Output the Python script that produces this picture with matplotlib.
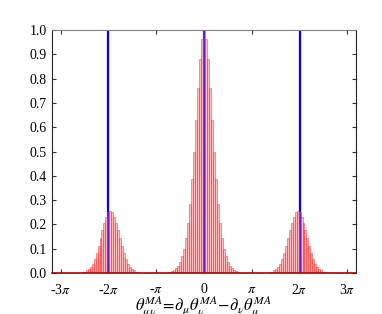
import numpy as np
import matplotlib
matplotlib.use("Agg")
import matplotlib.pyplot as plt

plt.rcParams['font.family'] = ['Liberation Serif', 'DejaVu Serif']
plt.rcParams['mathtext.fontset'] = 'stix'

# histogram data (bin width in rad, heights per peak, from centre outwards)
bin_width = 2 * np.pi / 48
peak_centers = [-2 * np.pi, 0.0, 2 * np.pi]
peak_shift_bins = [1, 0, -1]
central_half = [1.00, 0.965, 0.88, 0.76, 0.63, 0.50, 0.385, 0.285, 0.205, 0.145,
                0.10, 0.068, 0.045, 0.029, 0.018, 0.011, 0.006, 0.003, 0.0015]
side_half = [0.255, 0.250, 0.232, 0.207, 0.176, 0.143, 0.110, 0.080, 0.056,
             0.038, 0.025, 0.016, 0.010, 0.0055, 0.003, 0.0015]
peak_halves = [side_half, central_half, side_half]
line_positions = [-2 * np.pi, 0.0, 2 * np.pi]

xtick_vals = [-3 * np.pi, -2 * np.pi, -np.pi, 0, np.pi, 2 * np.pi, 3 * np.pi]
xtick_labels = [r'-3$\pi$', r'-2$\pi$', r'-$\pi$', '0', r'$\pi$', r'2$\pi$', r'3$\pi$']
ytick_vals = [0.0, 0.1, 0.2, 0.3, 0.4, 0.5, 0.6, 0.7, 0.8, 0.9, 1.0]

fig = plt.figure(figsize=(3.82, 3.14), dpi=100)
ax = fig.add_axes([0.136, 0.131, 0.796, 0.773])

for c, s, half in zip(peak_centers, peak_shift_bins, peak_halves):
    heights = list(half[::-1]) + list(half[1:])
    n = len(half) - 1
    ks = np.arange(-n, n + 1)
    xs = c + (ks + s) * bin_width
    ax.bar(xs, heights, width=bin_width, facecolor=(1.0, 0.3, 0.3, 0.38),
           edgecolor=(1.0, 0.2, 0.2, 0.7), linewidth=0.5, zorder=3)

for p in line_positions:
    ax.axvline(p, color='#0000ff', linewidth=1.6, zorder=2)

ax.set_xlim(-10, 10)
ax.set_ylim(0, 1.0)
ax.set_xticks(xtick_vals)
ax.set_xticklabels(xtick_labels)
ax.set_yticks(ytick_vals)
ax.set_yticklabels([f'{v:.1f}' for v in ytick_vals])
ax.tick_params(direction='in', length=3, width=0.8, top=True, right=True,
               labelsize=10, colors='#333333', labelcolor='black')
ax.tick_params(axis='x', pad=7)
ax.spines['top'].set_color('#808080')
ax.spines['bottom'].set_color('#aa0000')
ax.spines['bottom'].set_linewidth(1.2)
ax.spines['bottom'].set_zorder(5)
ax.spines['left'].set_color('#222222')
ax.spines['right'].set_color('#222222')

ax.set_xlabel(r'$\theta^{MA}_{\mu\nu}\!=\!\partial_\mu\theta^{MA}_\nu\!-\!\partial_\nu\theta^{MA}_\mu$',
              fontsize=12, labelpad=-2)

fig.savefig('out.png', dpi=100)
